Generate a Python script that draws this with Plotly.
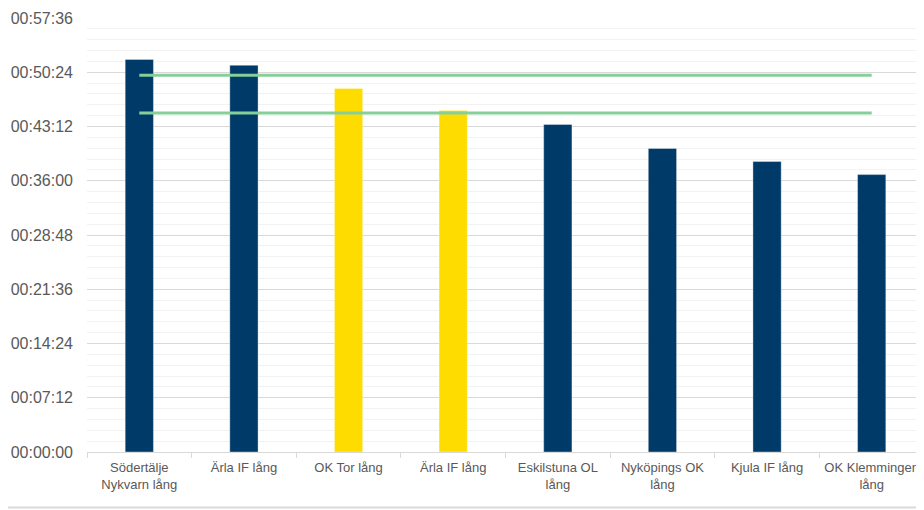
import plotly.graph_objects as go

categories = ["Södertälje<br>Nykvarn lång", "Ärla IF lång", "OK Tor lång", "Ärla IF lång",
              "Eskilstuna OL<br>lång", "Nyköpings OK<br>lång", "Kjula IF lång", "OK Klemmingen<br>lång"]
times = ["00:52:06", "00:51:19", "00:48:15", "00:45:20", "00:43:28", "00:40:17", "00:38:33", "00:36:49"]
bar_colors = ["#003A69", "#003A69", "#FFDC00", "#FFDC00", "#003A69", "#003A69", "#003A69", "#003A69"]
ref_line_1 = "00:50:00"
ref_line_2 = "00:45:00"

def to_dt(t):
    return "1970-01-01 " + t

xs = list(range(len(categories)))

fig = go.Figure()
fig.add_trace(go.Bar(
    x=xs, y=[to_dt(t) for t in times], width=0.27,
    marker=dict(color=bar_colors, line=dict(color="rgba(255,255,255,0.35)", width=1)),
    showlegend=False, hoverinfo="skip"))
for ref in (ref_line_1, ref_line_2):
    fig.add_trace(go.Scatter(
        x=[xs[0], xs[-1]], y=[to_dt(ref), to_dt(ref)], mode="lines",
        line=dict(color="#86CF99", width=3), showlegend=False, hoverinfo="skip"))

# page body has an 8px margin, so the figure is sized to fit the 924x510 window
fig.update_layout(
    width=916, height=502,
    margin=dict(l=79, r=0, t=10, b=58),
    plot_bgcolor="white", paper_bgcolor="white",
    font=dict(family="Liberation Sans, Arial, sans-serif", color="#595959"),
    shapes=[dict(type="line", xref="paper", yref="paper", x0=-0.2, x1=1.1, y0=-0.128, y1=-0.128,
                 line=dict(color="#D9D9D9", width=2))],
)
fig.update_yaxes(
    type="date", range=[to_dt("00:00:00"), to_dt("00:57:36")],
    tick0=to_dt("00:00:00"), dtick=432000, tickformat="%H:%M:%S",
    showgrid=True, gridcolor="#D9D9D9", gridwidth=1,
    minor=dict(dtick=86400, showgrid=True, gridcolor="#F2F2F2", gridwidth=1),
    zeroline=False, showline=False, ticks="", tickfont=dict(size=16, color="#595959"),
    ticklabelstandoff=13, automargin=False,
)
fig.update_xaxes(
    range=[-0.5, len(categories) - 0.5],
    tickvals=xs, ticktext=categories, ticks="",
    showgrid=False, zeroline=False,
    showline=True, linecolor="#D9D9D9", linewidth=1,
    tickfont=dict(size=13, color="#595959"), automargin=False, ticklabelstandoff=3,
    minor=dict(tickvals=[i - 0.5 for i in range(len(categories) + 1)], ticks="outside",
               ticklen=5, tickcolor="#D9D9D9", showgrid=False),
)
fig.write_html("out.html")
